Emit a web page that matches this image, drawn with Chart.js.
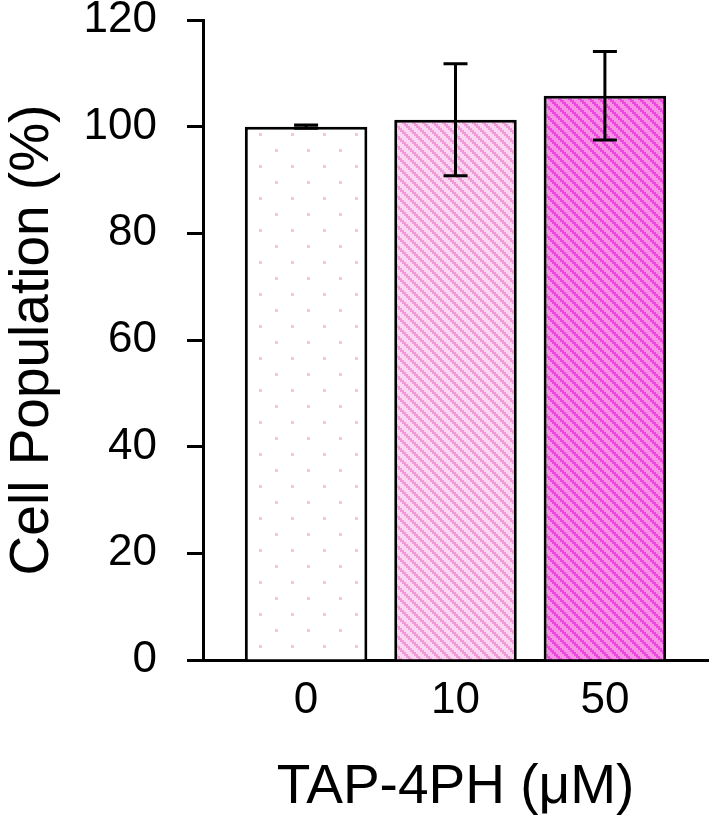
<!DOCTYPE html>
<html>
<head>
<meta charset="utf-8">
<script src="https://cdn.jsdelivr.net/npm/chart.js@4/dist/chart.umd.min.js"></script>
<style>
  body { margin: 0; background: #fff; }
  #wrap { width: 714px; height: 821px; position: relative; }
</style>
</head>
<body>
<div id="wrap"><canvas id="chart"></canvas></div>
<script>
const doses = ['0', '10', '50'];
const cellPopulation = [100, 101.3, 105.8];
const errors = [0.3, 10.5, 8.3];
const yTicks = [0, 20, 40, 60, 80, 100, 120];

// tiny canvas tiles used as bar fills
function makeDots() {
  const c = document.createElement('canvas');
  c.width = 32; c.height = 32;
  const g = c.getContext('2d');
  g.fillStyle = '#ffffff';
  g.fillRect(0, 0, 32, 32);
  g.fillStyle = '#f7c3dd';
  g.fillRect(3, 5, 3, 3);
  g.fillRect(19, 21, 3, 3);
  return g.createPattern(c, 'repeat');
}

function makeStripes(bg, fg) {
  const n = 10;
  const c = document.createElement('canvas');
  c.width = n; c.height = n;
  const g = c.getContext('2d');
  g.fillStyle = bg;
  g.fillRect(0, 0, n, n);
  g.fillStyle = fg;
  for (let i = 0; i < n; i += 2) {
    g.fillRect(i, i, 2, 2);
    g.fillRect((i + 2) % n, i, 2, 2);
  }
  return g.createPattern(c, 'repeat');
}

const fills = [
  makeDots(),
  makeStripes('#fcd5f1', '#f09bd9'),
  makeStripes('#f891e6', '#ec4ade'),
];

const errorBars = {
  id: 'errorBars',
  afterDatasetsDraw(chart) {
    const ctx = chart.ctx;
    const y = chart.scales.y;
    const meta = chart.getDatasetMeta(0);
    ctx.save();
    ctx.strokeStyle = '#000';
    ctx.lineWidth = 3;
    meta.data.forEach((bar, i) => {
      const top = y.getPixelForValue(cellPopulation[i] + errors[i]);
      const bot = y.getPixelForValue(cellPopulation[i] - errors[i]);
      ctx.beginPath();
      ctx.moveTo(bar.x, top);
      ctx.lineTo(bar.x, bot);
      ctx.moveTo(bar.x - 12, top);
      ctx.lineTo(bar.x + 12, top);
      ctx.moveTo(bar.x - 12, bot);
      ctx.lineTo(bar.x + 12, bot);
      ctx.stroke();
    });
    ctx.restore();
  }
};

const font = 'Arial, "Liberation Sans", Helvetica, sans-serif';

new Chart(document.getElementById('chart'), {
  type: 'bar',
  data: {
    datasets: [{
      data: cellPopulation.map((v, i) => ({ x: i, y: v })),
      backgroundColor: fills,
      borderColor: '#000',
      borderWidth: 3,
      borderSkipped: 'bottom',
      barPercentage: 0.82,
      categoryPercentage: 1,
    }],
  },
  options: {
    responsive: true,
    maintainAspectRatio: false,
    animation: false,
    layout: { padding: { left: 0, right: 6, top: 20, bottom: 0 } },
    plugins: { legend: { display: false }, tooltip: { enabled: false } },
    scales: {
      x: {
        type: 'linear',
        offset: false,
        min: -0.69,
        max: 2.69,
        afterBuildTicks: (scale) => { scale.ticks = doses.map((d, i) => ({ value: i })); },
        ticks: {
          callback: (v) => doses[v],
          color: '#000',
          font: { family: font, size: 44 },
          padding: 6,
          maxRotation: 0,
        },
        grid: { display: false, offset: false },
        border: { display: true, color: '#000', width: 3 },
        title: {
          display: true,
          text: 'TAP-4PH (\u03bcM)',
          color: '#000',
          font: { family: font, size: 55 },
          padding: { top: 4, bottom: 0 },
        },
        afterFit: (scale) => {
          scale.height = 161;
          scale.paddingLeft = 0;
          scale.paddingRight = 0;
        },
      },
      y: {
        min: 0,
        max: 120,
        afterBuildTicks: (scale) => { scale.ticks = yTicks.map((v) => ({ value: v })); },
        ticks: {
          color: '#000',
          font: { family: font, size: 44 },
          padding: 30,
        },
        grid: {
          drawOnChartArea: false,
          drawTicks: true,
          tickLength: 16,
          tickWidth: 3,
          tickColor: '#000',
        },
        border: { display: true, color: '#000', width: 3 },
        title: {
          display: true,
          text: 'Cell Population (%)',
          color: '#000',
          font: { family: font, size: 55 },
          padding: { top: 0, bottom: 8 },
        },
        afterFit: (scale) => {
          scale.width = 203;
          scale.paddingTop = 0;
          scale.paddingBottom = 0;
        },
      },
    },
  },
  plugins: [errorBars],
});
</script>
</body>
</html>
